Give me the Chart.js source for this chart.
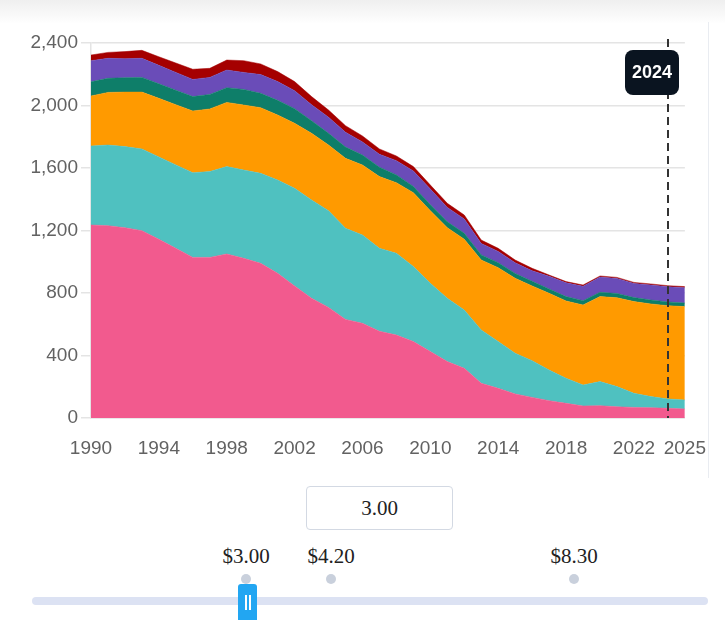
<!DOCTYPE html>
<html lang="en">
<head>
  <meta charset="UTF-8">
  <title>Stacked area with price slider</title>
  <script src="https://cdn.jsdelivr.net/npm/chart.js"></script>
  <style>
    body { margin: 0; width: 725px; height: 620px; overflow: hidden; background: #fff; position: relative; font-family: "Liberation Sans", Arial, sans-serif; }
    .topShade { position: absolute; left: 0; top: 0; width: 725px; height: 24px; background: linear-gradient(#efefef, #ffffff); }
    .rightRule { position: absolute; left: 708px; top: 22px; width: 1px; height: 456px; background: #e9ecf1; }
    #chartBox { position: absolute; left: 0; top: 0; width: 725px; height: 470px; }
    .priceBox { position: absolute; left: 306px; top: 486px; width: 145px; height: 42px; border: 1.5px solid #d3d9e3; border-radius: 4px; font: 21px "Liberation Serif", "Times New Roman", serif; color: #222; text-align: center; line-height: 42px; }
    .stop { position: absolute; top: 544px; transform: translateX(-50%); font: 21px "Liberation Serif", "Times New Roman", serif; color: #222; }
    .dot { position: absolute; top: 574px; width: 10px; height: 10px; margin-left: -5px; border-radius: 50%; background: #c9d0dc; }
    .track { position: absolute; left: 32px; top: 597px; width: 676px; height: 8px; border-radius: 4px; background: #dce2f3; }
    .handle { position: absolute; left: 238px; top: 584px; width: 19px; height: 40px; border-radius: 3px; background: #22a6f2; }
    .handle::before, .handle::after { content: ""; position: absolute; top: 11px; width: 1.5px; height: 15px; background: #fff; }
    .handle::before { left: 7px; }
    .handle::after { left: 11px; }
  </style>
</head>
<body>
  <div class="topShade"></div>
  <div class="rightRule"></div>
  <div id="chartBox"><canvas id="areaChart" width="725" height="470"></canvas></div>

  <div class="priceBox">3.00</div>
  <div id="stops"></div>
  <div class="track"></div>
  <div class="handle"></div>

  <script>
    // years on the x axis
    const years = [1990, 1991, 1992, 1993, 1994, 1995, 1996, 1997, 1998, 1999,
                   2000, 2001, 2002, 2003, 2004, 2005, 2006, 2007, 2008, 2009,
                   2010, 2011, 2012, 2013, 2014, 2015, 2016, 2017, 2018, 2019,
                   2020, 2021, 2022, 2023, 2024, 2025];
    const xTickYears = [1990, 1994, 1998, 2002, 2006, 2010, 2014, 2018, 2022, 2025];
    const yMax = 2400;
    const yStep = 400;
    const markYear = 2024;

    // series, bottom to top
    const pink = [1235, 1231, 1218, 1199, 1144, 1086, 1028, 1028, 1050, 1022,
                  990, 926, 845, 766, 708, 631, 606, 555, 531, 489,
                  425, 361, 318, 222, 190, 154, 132, 111, 94, 77,
                  79, 72, 68, 66, 62, 58];
    const teal = [506, 516, 519, 523, 527, 534, 542, 549, 559, 565,
                  576, 597, 625, 629, 619, 583, 565, 531, 523, 480,
                  437, 405, 373, 341, 299, 260, 235, 196, 160, 134,
                  154, 129, 90, 71, 60, 57];
    const orange = [320, 337, 349, 364, 375, 385, 395, 401, 411, 416,
                    420, 416, 416, 427, 420, 448, 448, 459, 452, 473,
                    465, 452, 453, 448, 473, 480, 478, 491, 495, 512,
                    544, 569, 587, 593, 597, 598];
    const green = [91, 90, 92, 94, 93, 93, 92, 93, 94, 100,
                   92, 94, 94, 80, 75, 72, 64, 60, 50, 40,
                   38, 38, 38, 33, 32, 31, 30, 28, 28, 28,
                   28, 27, 26, 25, 24, 23];
    const purple = [135, 128, 122, 122, 118, 114, 110, 109, 113, 109,
                    120, 120, 115, 103, 103, 95, 84, 83, 91, 99,
                    100, 92, 91, 73, 72, 68, 67, 81, 88, 92,
                    97, 96, 90, 96, 97, 98];
    const red = [36, 38, 45, 51, 55, 60, 65, 58, 64, 75,
                 68, 64, 58, 52, 46, 42, 38, 34, 30, 28,
                 26, 26, 26, 22, 20, 18, 16, 8, 8, 8,
                 7, 7, 7, 7, 7, 7];

    const priceStops = ['$3.00', '$4.20', '$8.30'];
    const stopLeft = [246, 331, 574];

    // slider stop labels
    const stopsEl = document.getElementById('stops');
    priceStops.forEach((label, i) => {
      stopsEl.insertAdjacentHTML('beforeend',
        `<div class="stop" style="left:${stopLeft[i]}px">${label}</div><div class="dot" style="left:${stopLeft[i]}px"></div>`);
    });

    const series = [
      { values: pink, color: '#f25a8e' },
      { values: teal, color: '#4fc1c0' },
      { values: orange, color: '#ff9a00' },
      { values: green, color: '#0e7e69' },
      { values: purple, color: '#6a4cb8' },
      { values: red, color: '#a50000' }
    ];

    const markerPlugin = {
      id: 'marker',
      afterDatasetsDraw(chart) {
        const { ctx, chartArea, scales } = chart;
        const px = Math.round(scales.x.getPixelForValue(markYear));
        ctx.save();
        ctx.strokeStyle = '#333';
        ctx.lineWidth = 2;
        ctx.setLineDash([8, 5]);
        ctx.beginPath();
        ctx.moveTo(px, chartArea.top - 4);
        ctx.lineTo(px, chartArea.bottom);
        ctx.stroke();

        const w = 54, h = 45;
        const bx = px + 11 - w, by = chartArea.top + 7;
        ctx.setLineDash([]);
        ctx.fillStyle = '#0a1420';
        ctx.beginPath();
        ctx.roundRect(bx, by, w, h, 8);
        ctx.fill();
        ctx.fillStyle = '#fff';
        ctx.font = 'bold 18px "Liberation Sans", Arial, sans-serif';
        ctx.textAlign = 'center';
        ctx.textBaseline = 'middle';
        ctx.fillText(String(markYear), bx + w / 2, by + h / 2 + 1);
        ctx.restore();
      }
    };

    const tickFont = { family: '"Liberation Sans", Arial, sans-serif', size: 19 };

    new Chart(document.getElementById('areaChart'), {
      type: 'line',
      data: {
        datasets: series.map((s, i) => ({
          data: s.values.map((v, j) => ({ x: years[j], y: v })),
          backgroundColor: s.color,
          borderColor: s.color,
          borderWidth: 0.5,
          pointRadius: 0,
          tension: 0,
          fill: i === 0 ? 'origin' : '-1'
        }))
      },
      options: {
        responsive: false,
        animation: false,
        layout: { padding: { top: 43, right: 39, left: 0, bottom: 0 } },
        plugins: { legend: { display: false }, tooltip: { enabled: false } },
        scales: {
          x: {
            type: 'linear',
            min: years[0],
            max: years[years.length - 1],
            afterBuildTicks: (scale) => { scale.ticks = xTickYears.map(v => ({ value: v })); },
            afterFit: (scale) => { scale.height = 52; },
            grid: { display: false, drawTicks: false },
            border: { display: true, color: '#e2e2e2', width: 1.5 },
            ticks: {
              autoSkip: false,
              maxRotation: 0,
              padding: 19,
              color: '#626262',
              font: tickFont,
              callback: (v) => String(v)
            }
          },
          y: {
            stacked: true,
            min: 0,
            max: yMax,
            afterFit: (scale) => { scale.width = 91; },
            grid: { color: '#e4e4e4', lineWidth: 1.5, tickLength: 10 },
            border: { display: true, color: '#e4e4e4', width: 1.5 },
            ticks: {
              stepSize: yStep,
              padding: 3,
              color: '#626262',
              font: tickFont,
              callback: (v) => v.toLocaleString('en-US')
            }
          }
        }
      },
      plugins: [markerPlugin]
    });
  </script>
</body>
</html>
